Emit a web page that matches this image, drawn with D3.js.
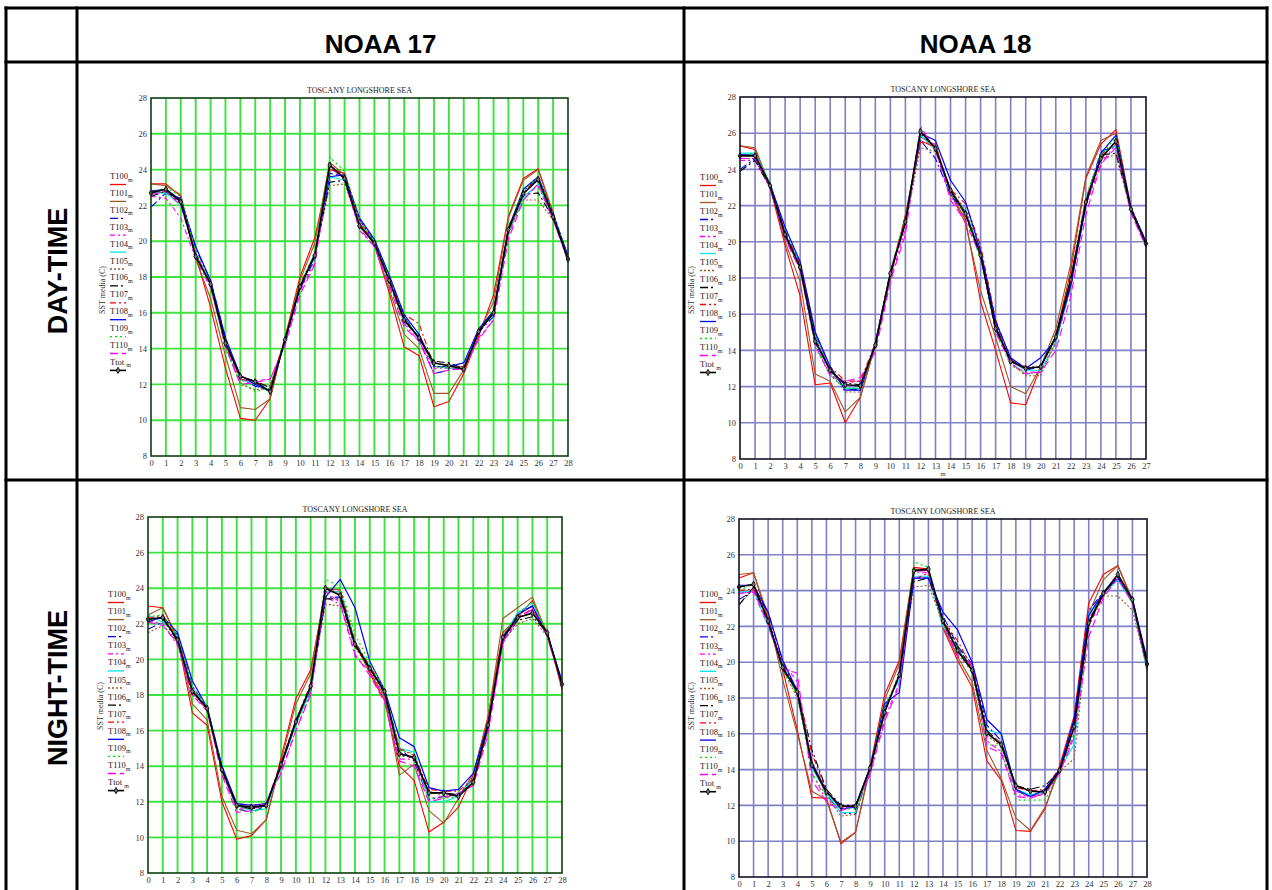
<!DOCTYPE html>
<html><head><meta charset="utf-8">
<script src="https://cdn.jsdelivr.net/npm/d3@7"></script>
<style>html,body{margin:0;padding:0;background:#fff;}svg{display:block;}</style>
</head><body>
<svg id="c" width="1272" height="890"></svg>
<script>
// ---------------- DATA ----------------
const seriesNames = ["T100","T101","T102","T103","T104","T105","T106","T107","T108","T109","T110","Ttot"];
const colHeaders = ["NOAA 17","NOAA 18"];
const rowHeaders = ["DAY-TIME","NIGHT-TIME"];
const chartTitle = "TOSCANY LONGSHORE SEA";
const yAxisLabel = "SST media (C)";
const yTicks = [8,10,12,14,16,18,20,22,24,26,28];

// NOAA 17 day-time (m = 0..28)
const noaa17Day = [
 [23.2,23.2,22.5,19.2,16.3,12.9,10.1,10.0,11.2,14.6,18.0,20.2,24.0,23.8,21.2,19.8,17.1,14.1,13.6,10.75,11.05,12.6,14.7,17.0,21.4,23.5,24.05,21.6,18.8],
 [23.2,23.1,22.6,19.0,16.8,13.6,10.7,10.6,11.2,14.6,17.8,19.9,24.4,23.7,21.0,19.8,17.3,14.8,14.0,11.5,11.5,12.8,14.9,16.6,21.3,23.4,24.0,21.5,18.9],
 [21.9,22.7,22.4,19.6,17.8,14.6,12.3,11.9,11.7,14.6,17.3,19.0,23.8,23.6,21.2,20.0,18.0,15.8,14.5,12.6,12.8,13.0,14.9,15.8,20.6,22.8,23.5,21.6,19.1],
 [22.5,22.4,21.3,19.0,17.4,14.2,12.2,12.2,12.3,14.2,17.2,18.8,24.4,23.4,20.6,19.7,17.6,15.4,14.4,12.9,12.9,12.9,14.6,15.6,20.3,22.5,23.1,21.2,18.9],
 [22.7,22.7,22.0,19.3,17.7,14.4,12.3,12.0,11.9,14.5,17.5,19.1,23.6,23.4,21.0,19.9,17.8,15.5,14.7,13.0,12.9,12.9,15.0,15.9,20.5,22.4,23.2,21.3,19.0],
 [22.6,22.8,22.2,19.2,17.6,14.1,12.0,11.7,11.8,14.5,17.4,19.2,23.1,23.2,20.9,19.8,17.7,15.5,14.6,13.0,12.9,12.8,14.9,16.0,20.5,22.3,22.3,21.2,19.0],
 [22.5,22.8,22.1,19.2,17.6,14.3,12.4,12.2,11.8,14.5,17.5,19.2,23.3,23.4,20.9,19.9,17.8,15.7,14.6,13.3,13.2,12.9,14.9,16.0,20.6,22.6,22.7,21.3,19.0],
 [22.8,22.9,22.3,19.3,17.7,14.4,12.3,12.1,11.9,14.6,17.6,19.3,24.2,23.7,21.0,19.9,17.9,15.9,15.4,13.0,13.0,13.0,15.0,16.1,20.8,22.7,23.6,21.4,19.0],
 [22.8,22.9,22.3,19.7,17.8,14.6,12.5,12.0,11.6,14.4,17.4,19.3,23.6,23.7,21.3,20.1,18.1,15.9,14.8,13.0,13.0,13.2,15.1,16.1,20.7,22.9,23.6,21.5,19.2],
 [22.7,23.0,22.5,19.4,17.6,14.0,12.1,11.6,11.8,14.6,17.5,19.4,24.7,23.9,21.2,20.0,17.9,15.7,14.6,13.0,13.0,12.9,15.0,16.0,20.7,22.8,23.6,21.5,19.1],
 [22.6,22.8,22.0,19.3,17.5,14.1,12.0,12.1,12.3,14.2,17.0,18.7,24.1,23.5,20.7,19.7,17.5,15.2,14.4,12.6,12.8,12.9,14.5,15.6,20.1,22.3,23.2,21.2,19.0],
 [22.7,22.9,22.2,19.15,17.6,14.3,12.45,12.15,11.6,14.5,17.45,19.2,24.25,23.5,20.85,19.9,17.8,15.6,14.6,13.2,13.05,12.85,14.95,16.0,20.65,22.65,23.45,21.35,19.0]
];

// NOAA 18 day-time (m = 0..27)
const noaa18Day = [
 [25.3,25.1,23.0,19.8,17.0,12.1,12.2,10.0,11.4,14.3,18.0,21.5,25.5,25.4,22.7,21.2,16.7,14.0,11.1,11.0,13.1,14.8,18.4,23.5,25.4,26.2,21.9,19.8],
 [25.3,25.2,23.1,20.0,17.8,12.7,12.3,10.6,11.4,14.3,18.1,21.4,25.8,25.3,22.7,21.0,17.3,14.7,12.0,11.6,13.1,15.2,18.8,23.6,25.6,26.0,21.8,19.8],
 [24.0,24.6,23.2,20.6,18.7,14.9,12.9,11.9,11.8,14.4,18.3,21.0,25.6,24.6,22.6,21.6,19.4,15.4,13.5,12.9,13.1,14.7,17.8,22.3,25.0,25.3,21.7,20.0],
 [24.5,24.5,23.0,20.2,18.5,14.4,12.6,12.2,12.3,14.1,17.9,20.7,26.4,25.0,22.5,21.3,19.6,15.6,13.2,12.8,12.8,14.4,17.5,22.0,24.3,25.4,21.6,19.8],
 [24.9,24.9,23.2,20.5,18.7,14.8,12.9,11.9,11.9,14.3,18.2,21.2,25.9,25.1,22.9,21.7,19.3,15.3,13.4,12.9,12.9,14.4,17.6,22.3,24.9,25.3,21.8,19.9],
 [24.6,24.6,23.1,20.3,18.5,14.7,12.8,11.7,11.7,14.4,18.2,20.9,25.2,25.0,22.8,21.8,19.5,15.5,13.3,12.6,12.6,14.5,17.7,22.0,24.6,24.8,21.7,19.9],
 [23.9,24.5,23.0,20.3,18.6,14.6,12.9,12.2,12.1,14.3,18.3,21.1,26.0,25.2,22.8,21.5,19.3,15.3,13.4,13.0,13.1,14.8,18.0,22.1,24.8,24.9,21.8,19.9],
 [24.8,24.8,23.2,20.5,18.8,15.0,13.1,12.3,12.3,14.4,18.4,21.3,25.6,25.2,22.9,22.1,19.8,15.7,13.5,13.1,13.1,14.8,18.0,22.3,24.8,25.5,21.9,20.0],
 [24.8,24.8,23.2,20.8,18.9,15.0,13.1,11.8,11.8,14.4,18.3,21.1,26.0,25.6,23.4,22.2,19.5,15.6,13.6,13.0,13.6,14.6,17.6,22.0,24.9,25.9,21.9,20.0],
 [24.7,24.9,23.2,20.3,18.5,14.2,12.6,11.9,11.9,14.3,18.4,21.4,26.0,25.3,22.8,21.4,19.0,15.0,13.2,12.7,12.8,14.6,18.1,22.5,24.8,25.8,21.9,19.8],
 [24.6,24.6,23.0,20.2,18.4,14.3,12.6,12.3,12.5,13.9,17.8,20.4,26.2,25.2,22.3,21.1,19.2,15.0,13.3,12.7,12.8,14.0,17.0,21.5,24.3,25.2,21.6,19.7],
 [24.75,24.75,23.1,20.4,18.6,14.5,12.9,12.1,12.05,14.3,18.25,21.1,26.1,25.15,22.85,21.55,19.25,15.2,13.4,13.0,13.1,14.75,17.9,22.2,24.6,25.55,21.8,19.9]
];

// NOAA 17 night-time (m = 0..28)
const noaa17Night = [
 [23.0,22.9,21.2,17.0,16.3,12.0,9.9,10.1,11.0,14.5,17.8,19.4,23.8,23.8,21.0,19.2,17.7,14.0,13.2,10.3,10.85,11.7,13.5,16.8,21.5,22.4,23.3,21.5,18.3],
 [22.5,22.9,21.2,17.5,16.6,12.3,10.4,10.2,11.0,14.3,17.5,19.2,24.0,23.9,20.9,19.3,17.9,13.5,14.1,11.5,10.8,12.2,13.6,16.7,22.3,22.9,23.5,21.4,18.5],
 [21.7,22.1,21.4,18.5,17.3,14.0,11.6,11.4,11.8,14.0,16.4,18.2,23.5,23.5,20.8,19.6,18.1,15.0,14.3,12.1,12.3,12.4,13.3,16.1,21.0,22.6,23.0,21.3,18.7],
 [22.2,22.0,20.8,18.0,17.2,13.6,11.6,11.6,11.9,13.7,16.0,18.1,23.5,23.1,20.2,19.3,17.8,14.4,14.4,12.2,12.3,12.4,13.0,16.0,20.9,22.2,22.9,21.3,18.6],
 [22.5,22.1,21.3,18.4,17.3,14.0,11.8,11.5,11.6,14.0,16.3,18.3,23.8,23.8,21.0,19.6,18.2,15.0,14.8,12.0,12.0,12.3,13.3,16.2,21.3,22.6,23.2,21.4,18.6],
 [21.5,21.9,21.0,18.2,17.2,13.7,11.7,11.6,11.8,14.0,16.4,18.4,23.1,23.0,20.7,19.4,18.0,14.8,14.4,12.6,12.3,12.4,13.0,16.1,21.0,22.0,22.3,21.3,18.5],
 [22.3,22.3,21.0,18.3,17.2,13.8,11.8,11.6,11.8,14.1,16.4,18.5,23.4,23.4,20.8,19.5,18.1,14.6,14.5,12.5,12.5,12.4,13.1,16.3,21.1,22.2,22.4,21.5,18.6],
 [22.3,22.5,21.2,18.3,17.3,13.9,11.9,11.8,11.9,14.2,16.6,18.6,23.9,23.9,21.0,19.6,18.3,15.0,14.6,12.7,12.6,12.6,13.3,16.5,21.3,22.4,22.8,21.5,18.6],
 [22.1,22.4,21.5,18.8,17.3,14.0,11.9,11.8,11.9,14.0,16.6,18.4,23.5,24.5,22.9,19.9,18.3,15.6,15.1,12.8,12.6,12.7,13.6,16.4,21.1,22.5,23.0,21.4,18.8],
 [22.4,22.5,21.3,18.3,17.4,13.9,11.6,11.4,11.7,14.1,16.4,18.3,24.5,24.1,21.4,19.8,18.3,14.9,14.7,12.2,12.2,12.3,13.2,16.3,21.3,22.6,23.2,21.4,18.6],
 [22.1,21.9,20.9,18.0,17.1,13.5,11.4,11.5,12.0,13.6,16.0,18.0,23.8,23.2,20.3,19.1,17.6,14.3,14.0,12.0,12.2,12.5,12.9,15.8,21.0,22.3,22.8,21.3,18.5],
 [22.25,22.35,21.1,18.2,17.25,13.8,11.8,11.7,11.8,14.1,16.5,18.5,24.0,23.6,20.85,19.5,18.2,14.7,14.5,12.5,12.5,12.3,13.1,16.3,21.25,22.35,22.6,21.5,18.6]
];

// NOAA 18 night-time (m = 0..28)
const noaa18Night = [
 [24.7,25.0,22.4,19.6,16.2,12.45,12.4,9.85,10.5,14.2,18.2,20.1,25.3,25.2,21.9,20.1,18.6,14.5,13.4,10.6,10.55,11.8,14.2,17.0,23.3,24.9,25.4,23.4,19.7],
 [24.9,25.0,22.6,19.0,16.0,12.8,12.3,9.95,10.5,14.1,17.9,19.9,25.2,25.1,22.0,20.3,18.9,15.1,13.5,11.3,10.6,11.9,14.0,16.8,22.7,24.6,25.4,23.5,19.8],
 [23.5,24.0,22.8,20.0,18.3,14.3,12.6,11.6,11.5,14.0,17.5,19.1,24.7,24.7,22.6,20.9,19.9,16.5,15.6,12.8,12.5,12.8,14.0,16.8,22.9,23.9,24.6,23.4,20.1],
 [23.9,23.9,22.0,20.0,18.9,13.8,12.3,11.8,12.0,13.7,16.9,18.8,25.0,25.0,22.1,20.5,19.9,15.6,15.0,12.6,12.5,12.6,13.8,16.0,22.0,23.7,24.8,23.3,19.7],
 [23.9,24.0,22.0,19.8,18.2,14.1,12.7,11.6,11.6,14.0,17.6,19.0,24.8,24.8,22.0,20.8,19.5,16.2,16.0,12.9,12.6,12.7,14.0,15.4,22.7,23.8,24.6,23.3,19.5],
 [23.2,24.1,22.4,19.6,18.0,14.5,12.5,11.4,11.5,14.0,17.3,19.4,24.2,24.3,22.2,20.4,19.6,15.9,15.3,12.8,12.5,12.7,13.9,14.6,22.2,23.7,23.7,22.9,19.7],
 [23.2,24.2,22.2,19.6,18.4,15.1,12.9,12.0,12.0,14.1,17.4,19.2,24.5,24.7,22.3,20.9,19.6,16.2,15.4,13.1,12.9,13.1,13.9,16.4,22.1,23.8,24.8,23.4,19.9],
 [24.0,24.1,22.4,19.8,18.5,14.9,12.8,11.9,12.0,14.1,17.3,19.3,24.6,25.0,22.3,21.2,19.7,16.1,15.5,13.0,12.8,12.9,14.1,16.5,22.4,23.8,24.9,23.5,20.0],
 [24.3,24.3,22.8,20.1,18.4,14.4,12.8,11.8,11.9,14.1,17.7,18.3,24.7,24.7,22.8,21.8,20.0,16.8,16.0,12.9,12.5,12.9,14.0,16.8,22.6,23.9,24.7,23.5,20.2],
 [24.0,24.4,22.3,19.5,18.2,13.8,12.5,11.8,11.8,14.2,17.5,19.3,25.6,25.3,22.2,20.6,19.4,15.4,15.3,12.3,12.3,12.3,13.8,16.1,22.3,23.9,24.9,23.4,19.8],
 [23.8,24.0,22.1,19.6,19.4,13.4,12.2,11.7,12.0,13.8,16.7,18.7,25.1,25.1,22.2,20.3,19.8,15.3,14.9,12.5,12.4,12.7,13.8,15.8,21.4,23.6,24.7,23.3,19.6],
 [24.2,24.35,22.3,19.7,18.35,14.25,12.75,11.95,11.95,14.1,17.2,19.3,25.1,25.2,22.3,20.65,19.55,16.05,15.4,13.1,12.8,12.75,13.95,16.4,22.2,23.85,24.9,23.5,19.9]
];

// ---------------- STYLES ----------------
const seriesStyle = [
 {c:"#ff0000", d:null, w:1.1},
 {c:"#9b5a22", d:null, w:1.1},
 {c:"#0000ff", d:"8,3,2,3", w:1.1},
 {c:"#ff00ff", d:"5,3,2,3", w:1.1},
 {c:"#00e8e8", d:null, w:1.1},
 {c:"#9b5a22", d:"2,2", w:1.1},
 {c:"#000000", d:"8,3,2,3", w:1.1},
 {c:"#ff0000", d:"6,3,2,3", w:1.1},
 {c:"#0000ff", d:null, w:1.2},
 {c:"#00e000", d:"2,3", w:1.2},
 {c:"#ff00ff", d:"8,4", w:1.1},
 {c:"#000000", d:null, w:1.6}
];

const panels = [
 {data:noaa17Day,  maxX:28, L:151, R:568,  T:98,  B:456, grid:"#3ee23e", gw:1.9, frame:"#0d3d0d", legX:110, legY:176, legS:16.9, ylabX:105, ylabY:290, mlabel:false},
 {data:noaa18Day,  maxX:27, L:740, R:1146, T:97,  B:459, grid:"#8080c4", gw:1.6, frame:"#111122", legX:700, legY:177, legS:17.0, ylabX:694, ylabY:290, mlabel:true},
 {data:noaa17Night,maxX:28, L:148, R:562,  T:517, B:873, grid:"#3ee23e", gw:1.9, frame:"#0d3d0d", legX:108, legY:594, legS:17.1, ylabX:103, ylabY:706, mlabel:false},
 {data:noaa18Night,maxX:28, L:739, R:1147, T:519, B:877, grid:"#8080c4", gw:1.6, frame:"#111122", legX:700, legY:594, legS:17.2, ylabX:694, ylabY:706, mlabel:false}
];

const svg = d3.select("#c");
const serif = "'Liberation Serif','DejaVu Serif',serif";
const sans = "'Liberation Sans',Arial,sans-serif";

// ---------------- TABLE ----------------
const tbl = svg.append("g").attr("stroke","#000").attr("stroke-width",3);
const tx = [6,77,684,1267], ty = [8,62,480,892];
tx.forEach(x=>tbl.append("line").attr("x1",x).attr("x2",x).attr("y1",ty[0]-1.5).attr("y2",ty[3]));
ty.slice(0,3).forEach(y=>tbl.append("line").attr("x1",tx[0]-1.5).attr("x2",tx[3]+1.5).attr("y1",y).attr("y2",y));

colHeaders.forEach((h,i)=>{
  svg.append("text").attr("x",(tx[i+1]+tx[i+2])/2).attr("y",53)
    .attr("text-anchor","middle").attr("font-family",sans).attr("font-weight","bold")
    .attr("font-size",26).text(h);
});
rowHeaders.forEach((h,i)=>{
  const cy = i===0 ? 271 : 688;
  svg.append("text").attr("transform",`translate(67,${cy}) rotate(-90)`)
    .attr("text-anchor","middle").attr("font-family",sans).attr("font-weight","bold")
    .attr("font-size",27).text(h);
});

// ---------------- PANELS ----------------
panels.forEach(p=>{
  const g = svg.append("g");
  const x = d3.scaleLinear().domain([0,p.maxX]).range([p.L,p.R]);
  const y = d3.scaleLinear().domain([8,28]).range([p.B,p.T]);
  const xTicks = d3.range(0,p.maxX+1);

  // grid
  const gg = g.append("g").attr("stroke",p.grid).attr("stroke-width",p.gw);
  xTicks.slice(1,-1).forEach(v=>gg.append("line").attr("x1",x(v)).attr("x2",x(v)).attr("y1",p.T).attr("y2",p.B));
  yTicks.slice(1,-1).forEach(v=>gg.append("line").attr("x1",p.L).attr("x2",p.R).attr("y1",y(v)).attr("y2",y(v)));

  // axes labels via d3 axes
  const ax = g.append("g").attr("transform",`translate(0,${p.B})`)
    .call(d3.axisBottom(x).tickValues(xTicks).tickSize(0).tickPadding(4).tickFormat(d3.format("d")));
  ax.select(".domain").remove();
  ax.selectAll("text").attr("font-family",serif).attr("font-size",8.5).attr("fill","#333");
  const ay = g.append("g").attr("transform",`translate(${p.L},0)`)
    .call(d3.axisLeft(y).tickValues(yTicks).tickSize(0).tickPadding(4).tickFormat(d3.format("d")));
  ay.select(".domain").remove();
  ay.selectAll("text").attr("font-family",serif).attr("font-size",8.5).attr("fill","#333");

  // title
  g.append("text").attr("x",(p.L+p.R)/2).attr("y",p.T-5).attr("text-anchor","middle")
    .attr("font-family",serif).attr("font-size",8).attr("fill","#222").text(chartTitle);
  // y label
  g.append("text").attr("transform",`translate(${p.ylabX},${p.ylabY}) rotate(-90)`)
    .attr("text-anchor","middle").attr("font-family",serif).attr("font-size",8).attr("fill","#333").text(yAxisLabel);
  if(p.mlabel){
    g.append("text").attr("x",(p.L+p.R)/2).attr("y",p.B+17).attr("text-anchor","middle")
      .attr("font-family",serif).attr("font-size",6.5).attr("fill","#333").text("m");
  }

  // series
  const line = d3.line().x((d,i)=>x(i)).y(d=>y(d));
  p.data.forEach((arr,si)=>{
    const st = seriesStyle[si];
    g.append("path").datum(arr).attr("d",line).attr("fill","none")
      .attr("stroke",st.c).attr("stroke-width",st.w)
      .attr("stroke-dasharray",st.d).attr("stroke-linejoin","round");
  });
  const tot = p.data[11];
  g.append("g").selectAll("path").data(tot).join("path")
    .attr("transform",(d,i)=>`translate(${x(i)},${y(d)})`)
    .attr("d",d3.symbol(d3.symbolDiamond,11)())
    .attr("fill","#777").attr("stroke","#000").attr("stroke-width",0.9);

  // frame
  g.append("rect").attr("x",p.L).attr("y",p.T).attr("width",p.R-p.L).attr("height",p.B-p.T)
    .attr("fill","none").attr("stroke",p.frame).attr("stroke-width",1.6);

  // legend
  const lg = g.append("g");
  seriesNames.forEach((n,i)=>{
    const yy = p.legY + i*p.legS;
    const t = lg.append("text").attr("x",p.legX).attr("y",yy+3).attr("font-family",serif)
      .attr("font-size",8.5).attr("fill","#222");
    t.append("tspan").text(n);
    t.append("tspan").attr("font-size",6).attr("dy",2.5).attr("dx",i===11?2:0).text("m");
    const st = seriesStyle[i];
    const ly = yy+8.5;
    lg.append("line").attr("x1",p.legX).attr("x2",p.legX+16).attr("y1",ly).attr("y2",ly)
      .attr("stroke",st.c).attr("stroke-width",i===11?1.6:1.3).attr("stroke-dasharray",st.d);
    if(i===11){
      lg.append("path").attr("transform",`translate(${p.legX+8},${ly})`)
        .attr("d",d3.symbol(d3.symbolDiamond,11)()).attr("fill","#777").attr("stroke","#000").attr("stroke-width",0.9);
    }
  });
});
</script>
</body></html>
